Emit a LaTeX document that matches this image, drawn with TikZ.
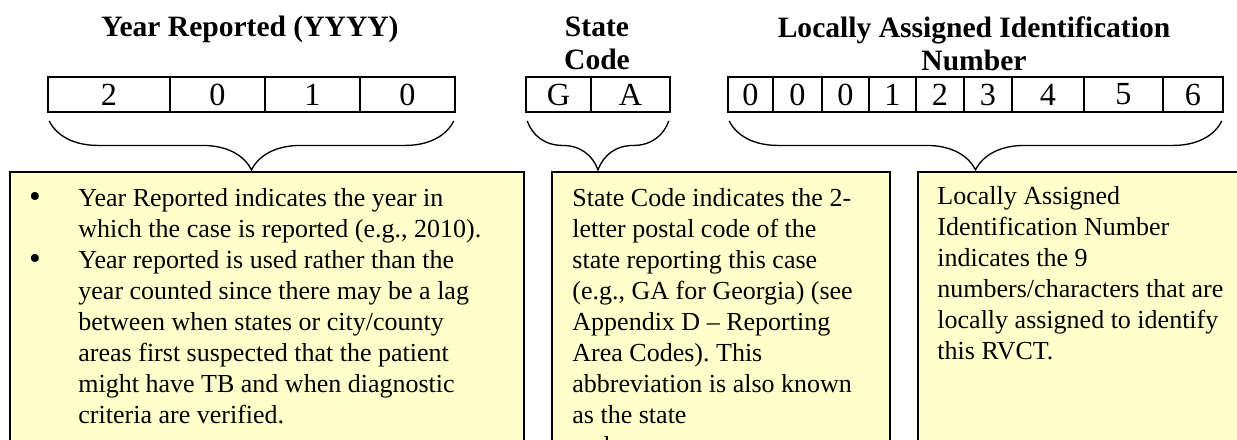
\documentclass[tikz,border=0pt]{standalone}
\usepackage{fontspec}
\setmainfont{Liberation Serif}
\usetikzlibrary{decorations.pathreplacing}
\definecolor{notefill}{HTML}{FFFFCC}
\frenchspacing
\begin{document}
\begin{tikzpicture}[x=0.45pt,y=-0.45pt,
    cell/.style={draw, line width=0.9pt, inner sep=0pt, minimum height=35*0.45pt, font=\fontsize{14.5}{16}\selectfont},
    head/.style={align=center, anchor=north, inner sep=0pt, font=\fontsize{13.3}{14.85}\selectfont\bfseries},
    note/.style={draw, line width=1.1pt, fill=notefill, anchor=north west, inner sep=0pt, minimum height=290*0.45pt},
    body/.style={align=left, anchor=north west, inner sep=0pt, font=\fontsize{11.7}{13.95}\selectfont},
    dot/.style={inner sep=0pt, font=\fontsize{15}{13.95}\selectfont},
    curly/.style={decorate, decoration={brace, mirror, amplitude=22pt}, line width=0.6pt}]
  \useasboundingbox (0,0) rectangle (1237,440);
  \clip (0,0) rectangle (1237,440);
  % headings
  \node[head] (hyear) at (250,16) {Year Reported (YYYY)};
  \node[head] (hstate) at (597,16) {State\\Code};
  \node[head] (hlocal) at (974,16) {Locally Assigned Identification\\Number};
  % cells
  \foreach \l/\r/\t [count=\i] in {48/170/2,170/265/0,265/360/1,360/455/0}
    \node[cell, minimum width={(\r-\l)*0.45pt}] (yr\i) at ({(\l+\r)/2},94.5) {\t};
  \foreach \l/\r/\t [count=\i] in {526/591/G,591/670/A}
    \node[cell, minimum width={(\r-\l)*0.45pt}] (st\i) at ({(\l+\r)/2},94.5) {\t};
  \foreach \l/\r/\t [count=\i] in {728/773/0,773/822/0,822/869/0,869/916/1,916/964/2,964/1012/3,1012/1084/4,1084/1163/5,1163/1223/6}
    \node[cell, minimum width={(\r-\l)*0.45pt}] (id\i) at ({(\l+\r)/2},94.5) {\t};
  % notes
  \node[note, minimum width=514*0.45pt] (nyear) at (9,171) {};
  \node[note, minimum width=338*0.45pt] (nstate) at (551,171) {};
  \node[note, minimum width=330*0.45pt] (nlocal) at (917,171) {};
  % braces
  \draw[curly] ([shift={(1pt,-3.6pt)}]yr1.south west) -- ([shift={(-1pt,-3.6pt)}]yr4.south east);
  \draw[curly] ([shift={(1pt,-3.6pt)}]st1.south west) -- ([shift={(-1pt,-3.6pt)}]st2.south east);
  \draw[curly] ([shift={(1pt,-3.6pt)}]id1.south west) -- ([shift={(-1pt,-3.6pt)}]id9.south east);
  % texts
  \node[dot] (dot1) at (35,200) {\textbullet};
  \node[body] (tyear1) at (78,188) {Year Reported indicates the year in\\which the case is reported (e.g., 2010).};
  \node[dot] (dot2) at (35,262) {\textbullet};
  \node[body] (tyear2) at (78,250) {Year reported is used rather than the\\year counted since there may be a lag\\between when states or city/county\\areas first suspected that the patient\\might have TB and when diagnostic\\criteria are verified.};
  \node[body] (tstate) at (572,188) {State Code indicates the 2-\\letter postal code of the\\state reporting this case\\(e.g., GA for Georgia) (see\\Appendix D -- Reporting\\Area Codes). This\\abbreviation is also known\\as the state\\code};
  \node[body] (tlocal) at (937,186) {Locally Assigned\\Identification Number\\indicates the 9\\numbers/characters that are\\locally assigned to identify\\this RVCT.};
\end{tikzpicture}
\end{document}
